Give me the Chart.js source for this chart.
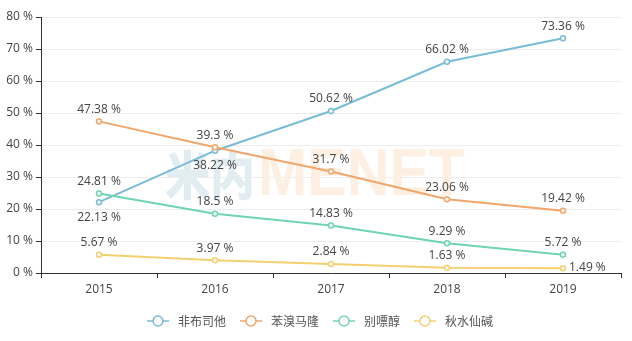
<!DOCTYPE html>
<html>
<head>
<meta charset="utf-8">
<script src="https://cdn.jsdelivr.net/npm/chart.js@4.4.0/dist/chart.umd.min.js"></script>
<style>
  html, body { margin: 0; padding: 0; background: #fff; }
  #wrap { width: 632px; height: 341px; }
</style>
</head>
<body>
<div id="wrap"><canvas id="lineChart" width="632" height="341"></canvas></div>
<script>
// data
const years = ["2015", "2016", "2017", "2018", "2019"];
const seriesNames = ["非布司他", "苯溴马隆", "别嘌醇", "秋水仙碱"];
const febuxostat = [22.13, 38.22, 50.62, 66.02, 73.36];
const benzbromarone = [47.38, 39.3, 31.7, 23.06, 19.42];
const allopurinol = [24.81, 18.5, 14.83, 9.29, 5.72];
const colchicine = [5.67, 3.97, 2.84, 1.63, 1.49];
const yTicks = [0, 10, 20, 30, 40, 50, 60, 70, 80];

const colors = ["#79bcd8", "#f1a66c", "#6fd5b1", "#f3cf6e"];
// where each value label sits
const labelSide = [
  ["below", "below", "above", "above", "above"],
  ["above", "above", "above", "above", "above"],
  ["above", "above", "above", "above", "above"],
  ["above", "above", "above", "above", "right"]
];

const allValues = [febuxostat, benzbromarone, allopurinol, colchicine];

const watermark = {
  id: "watermark",
  beforeDatasetsDraw(chart) {
    const ctx = chart.ctx;
    ctx.save();
    ctx.textBaseline = "alphabetic";
    ctx.textAlign = "left";
    ctx.fillStyle = "#e2edf2";
    ctx.font = "900 52px 'Noto Sans CJK SC'";
    ctx.fillText("米内", 165, 195, 90);
    ctx.fillStyle = "#fdefe2";
    ctx.font = "bold 66px 'Liberation Sans'";
    ctx.fillText("MENET", 258, 195, 207);
    ctx.restore();
  }
};

const valueLabels = {
  id: "valueLabels",
  afterDatasetsDraw(chart) {
    const ctx = chart.ctx;
    ctx.save();
    ctx.font = "12px 'Open Sans', 'Noto Sans', sans-serif";
    ctx.fillStyle = "#444";
    chart.data.datasets.forEach((ds, i) => {
      const meta = chart.getDatasetMeta(i);
      meta.data.forEach((pt, j) => {
        const txt = ds.data[j] + " %";
        const side = labelSide[i][j];
        if (side === "right") {
          ctx.textAlign = "left";
          ctx.textBaseline = "middle";
          ctx.fillText(txt, pt.x + 6, pt.y - 1);
        } else if (side === "below") {
          ctx.textAlign = "center";
          ctx.textBaseline = "middle";
          ctx.fillText(txt, pt.x, pt.y + 15);
        } else {
          ctx.textAlign = "center";
          ctx.textBaseline = "middle";
          ctx.fillText(txt, pt.x, pt.y - 12);
        }
      });
    });
    ctx.restore();
  }
};

const bottomLegend = {
  id: "bottomLegend",
  afterDraw(chart) {
    const ctx = chart.ctx;
    ctx.save();
    ctx.font = "12px 'Noto Sans CJK SC', sans-serif";
    const y = 321;
    const widths = seriesNames.map(n => ctx.measureText(n).width);
    const total = widths.reduce((a, w) => a + 22 + 9 + w, 0) + 14 * (seriesNames.length - 1);
    let x = (632 - total) / 2 + 4;
    seriesNames.forEach((name, i) => {
      ctx.strokeStyle = colors[i];
      ctx.lineWidth = 1.5;
      ctx.beginPath();
      ctx.moveTo(x, y);
      ctx.lineTo(x + 22, y);
      ctx.stroke();
      ctx.beginPath();
      ctx.arc(x + 11, y, 5, 0, Math.PI * 2);
      ctx.fillStyle = "#fff";
      ctx.fill();
      ctx.stroke();
      ctx.fillStyle = "#555";
      ctx.textAlign = "left";
      ctx.textBaseline = "middle";
      ctx.fillText(name, x + 31, y);
      x += 22 + 9 + widths[i] + 14;
    });
    ctx.restore();
  }
};

new Chart("lineChart", {
  type: "line",
  data: {
    labels: years,
    datasets: allValues.map((vals, i) => ({
      label: seriesNames[i],
      data: vals,
      borderColor: colors[i],
      backgroundColor: "#fff",
      borderWidth: 2,
      pointRadius: 2.5,
      pointBorderWidth: 1.5,
      pointBackgroundColor: "#fff",
      pointBorderColor: colors[i],
      tension: 0,
      order: allValues.length - i
    }))
  },
  options: {
    responsive: false,
    animation: false,
    layout: { padding: { top: 17, right: 11, bottom: 40, left: 0 } },
    plugins: {
      legend: { display: false },
      tooltip: { enabled: false }
    },
    scales: {
      x: {
        offset: true,
        grid: {
          offset: true,
          drawOnChartArea: false,
          tickColor: "#333",
          tickLength: 5
        },
        border: { color: "#333", width: 1 },
        ticks: {
          color: "#444",
          font: { size: 12, family: "'Open Sans', 'Noto Sans', sans-serif" },
          padding: 4
        },
        afterFit(scale) { scale.height = 28; }
      },
      y: {
        min: 0,
        max: 80,
        afterBuildTicks(scale) { scale.ticks = yTicks.map(v => ({ value: v })); },
        grid: {
          color: "#ececec",
          tickColor: "#333",
          tickLength: 5
        },
        border: { color: "#333", width: 1 },
        ticks: {
          color: "#444",
          font: { size: 12, family: "'Open Sans', 'Noto Sans', sans-serif" },
          padding: 3,
          callback: v => v + " %"
        },
        afterFit(scale) { scale.width = 41; }
      }
    }
  },
  plugins: [watermark, valueLabels, bottomLegend]
});
</script>
</body>
</html>
